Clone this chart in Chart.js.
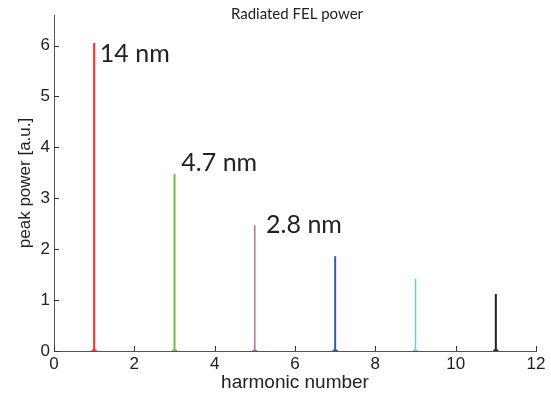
<!DOCTYPE html>
<html>
<head>
<meta charset="utf-8">
<script src="https://cdn.jsdelivr.net/npm/chart.js@4/dist/chart.umd.min.js"></script>
<style>
  html, body { margin: 0; padding: 0; background: #fff; }
  #wrap { width: 551px; height: 394px; }
</style>
</head>
<body>
<div id="wrap"><canvas id="myChart" width="551" height="394"></canvas></div>
<script>
// harmonic lines of the FEL spectrum
var harmonics = [1, 3, 5, 7, 9, 11];
var peakPower = [6.05, 3.48, 2.47, 1.86, 1.42, 1.12];
var lineColors = ['#ff2a2a', '#6cbd45', '#a84a9c', '#3a5aa8', '#72c6d2', '#222222'];
var lineWidths = [2, 2, 1.2, 2, 1.5, 2];
var wavelengthLabels = ['14 nm', '4.7 nm', '2.8 nm'];
var labelPositions = [[1.14, 5.84], [3.17, 3.7], [5.28, 2.48]];
var xTicks = [0, 2, 4, 6, 8, 10, 12];
var yTicks = [0, 1, 2, 3, 4, 5, 6];

var datasets = [];
harmonics.forEach(function (h, i) {
    datasets.push({
        data: [
            { x: h - 0.06, y: 0 },
            { x: h, y: 0.02 },
            { x: h, y: peakPower[i] },
            { x: h, y: 0.02 },
            { x: h + 0.06, y: 0 }
        ],
        borderColor: lineColors[i],
        borderWidth: lineWidths[i],
        pointRadius: 0,
        tension: 0,
        showLine: true
    });
});

// small inward tick marks (MATLAB style)
var innerTicks = {
    id: 'innerTicks',
    afterDraw: function (chart) {
        var ctx = chart.ctx;
        var xs = chart.scales.x, ys = chart.scales.y;
        ctx.save();
        ctx.strokeStyle = '#333';
        ctx.lineWidth = 1;
        ctx.beginPath();
        xTicks.forEach(function (v) {
            var px = Math.round(xs.getPixelForValue(v)) + 0.5;
            ctx.moveTo(px, ys.bottom);
            ctx.lineTo(px, ys.bottom - 5);
        });
        yTicks.forEach(function (v) {
            var py = Math.round(ys.getPixelForValue(v)) + 0.5;
            ctx.moveTo(xs.left, py);
            ctx.lineTo(xs.left + 5, py);
        });
        ctx.stroke();
        ctx.restore();
    }
};

// wavelength annotations next to the first peaks
var peakLabels = {
    id: 'peakLabels',
    afterDatasetsDraw: function (chart) {
        var ctx = chart.ctx;
        var xs = chart.scales.x, ys = chart.scales.y;
        ctx.save();
        ctx.fillStyle = '#222';
        ctx.font = '25px Lato, "Open Sans", sans-serif';
        ctx.textAlign = 'left';
        ctx.textBaseline = 'middle';
        wavelengthLabels.forEach(function (t, i) {
            ctx.fillText(t, xs.getPixelForValue(labelPositions[i][0]), ys.getPixelForValue(labelPositions[i][1]));
        });
        ctx.restore();
    }
};

var plotTitle = {
    id: 'plotTitle',
    afterDraw: function (chart) {
        var c = chart.ctx;
        c.save();
        c.fillStyle = '#222';
        c.font = '15px Lato, "Open Sans", sans-serif';
        c.textAlign = 'center';
        c.textBaseline = 'middle';
        c.fillText('Radiated FEL power', (chart.chartArea.left + chart.chartArea.right) / 2 + 2, 14);
        c.restore();
    }
};

var ctx = document.getElementById('myChart').getContext('2d');
var myChart = new Chart(ctx, {
    type: 'scatter',
    data: { datasets: datasets },
    options: {
        responsive: false,
        animation: false,
        layout: { padding: { top: 15, right: 15, left: 0, bottom: 0 } },
        plugins: {
            legend: { display: false },
            tooltip: { enabled: false }
        },
        scales: {
            x: {
                type: 'linear',
                min: 0,
                max: 12,
                afterBuildTicks: function (axis) {
                    axis.ticks = xTicks.map(function (v) { return { value: v }; });
                },
                afterFit: function (axis) { axis.height = 43; },
                grid: { display: false, drawTicks: false },
                border: { display: true, color: '#555', width: 1 },
                ticks: {
                    padding: 3,
                    color: '#222',
                    font: { family: '"Liberation Sans", Arial, sans-serif', size: 17 },
                    maxRotation: 0
                },
                title: {
                    display: true,
                    text: 'harmonic number',
                    color: '#222',
                    padding: 0,
                    font: { family: '"Liberation Sans", Arial, sans-serif', size: 19 }
                }
            },
            y: {
                type: 'linear',
                min: 0,
                max: 6.6,
                afterBuildTicks: function (axis) {
                    axis.ticks = yTicks.map(function (v) { return { value: v }; });
                },
                afterFit: function (axis) { axis.width = 54; },
                grid: { display: false, drawTicks: false },
                border: { display: true, color: '#555', width: 1 },
                ticks: {
                    padding: 4,
                    color: '#222',
                    font: { family: '"Liberation Sans", Arial, sans-serif', size: 17 }
                },
                title: {
                    display: true,
                    text: 'peak power [a.u.]',
                    color: '#222',
                    padding: { top: 15, bottom: 0 },
                    font: { family: '"Liberation Sans", Arial, sans-serif', size: 17 }
                }
            }
        }
    },
    plugins: [innerTicks, peakLabels, plotTitle]
});
</script>
</body>
</html>
